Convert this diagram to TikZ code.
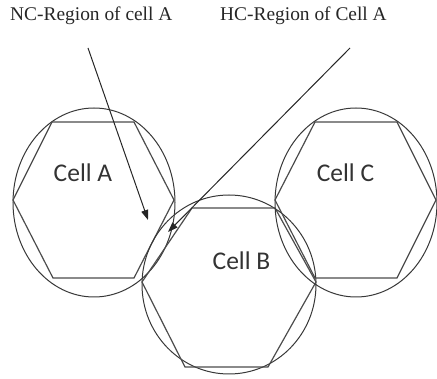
\documentclass[tikz,border=0pt]{standalone}
\usepackage{fontspec}
\setmainfont{Liberation Serif}
\newfontfamily\cellfont{Carlito}
\usetikzlibrary{arrows.meta}
\tikzset{
  cellline/.style={draw=black!78, line width=1pt},
  hexline/.style={draw=black!70, line width=1.2pt, line join=miter},
  pointer/.style={draw=black!85, line width=1pt, -{Triangle[length=10pt,width=7pt]}},
  toplabel/.style={anchor=base west, inner sep=0pt, text=black!85, font=\fontsize{19.4}{21}\selectfont},
  celllabel/.style={anchor=base, inner sep=0pt, text=black!80, font=\cellfont\fontsize{25.5}{28}\selectfont}
}
\begin{document}
\begin{tikzpicture}[x=1pt,y=-1pt]
\useasboundingbox (0,0) rectangle (437,379);
% cell A
\draw[cellline] (94,202.5) ellipse [x radius=81pt, y radius=94.5pt];
\draw[hexline] (13,200) -- (52,122) -- (134,122) -- (174,200) -- (134,278) -- (53,278) -- cycle;
% cell B
\draw[cellline] (229,284.5) ellipse [x radius=87pt, y radius=89.5pt];
\draw[hexline] (142,282) -- (192,208) -- (275,208) -- (316,282) -- (268,367) -- (185,367) -- cycle;
% cell C
\draw[cellline] (356,202.5) ellipse [x radius=81pt, y radius=94.5pt];
\draw[hexline] (275,200) -- (315,122) -- (397,122) -- (436,200) -- (397,278) -- (315,278) -- cycle;
% labels
\node[celllabel] (la) at (83,182) {Cell A};
\node[celllabel] (lb) at (241.5,270) {Cell B};
\node[celllabel] (lc) at (345.5,182) {Cell C};
\node[toplabel] (nc) at (10,21) {NC-Region of cell A};
\node[toplabel] (hc) at (220,21) {HC-Region of Cell A};
% pointers
\coordinate (ncstart) at (88,48);
\coordinate (nctip) at (148,220);
\coordinate (hcstart) at (350,48);
\coordinate (hctip) at (168,232);
\draw[pointer] (ncstart) -- (nctip);
\draw[pointer] (hcstart) -- (hctip);
\end{tikzpicture}
\end{document}
